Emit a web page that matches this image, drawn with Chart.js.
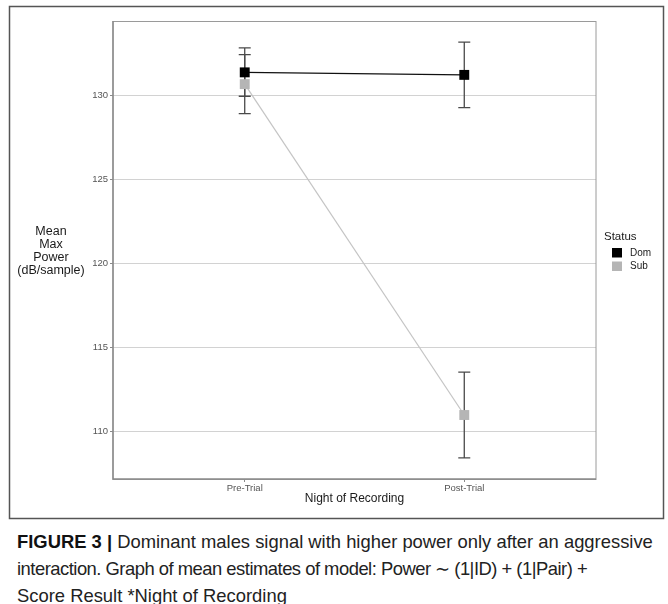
<!DOCTYPE html>
<html>
<head>
<meta charset="utf-8">
<script src="https://cdn.jsdelivr.net/npm/chart.js@4"></script>
<style>
  body { margin: 0; background: #fff; width: 668px; height: 604px; overflow: hidden; position: relative; }
  #wrap { position: absolute; left: 0; top: 0; width: 668px; height: 525px; }
  #caption {
    position: absolute; left: 17px; top: 528px; width: 660px; white-space: nowrap;
    font-family: "Liberation Sans", Arial, sans-serif; font-size: 18.4px; line-height: 27px; color: #222;
  }
  #caption b { color: #111; }
  #caption .tight { letter-spacing: -0.5px; }
</style>
</head>
<body>
<div id="wrap"><canvas id="myChart" width="668" height="525"></canvas></div>
<div id="caption"><b>FIGURE 3 |</b> Dominant males signal with higher power only after an aggressive<br><span class="tight">interaction. Graph of mean estimates of model: Power &#8764; (1|ID) + (1|Pair) +</span><br>Score Result *Night of Recording</div>
<script>
// categories and estimates
var nights = ["Pre-Trial", "Post-Trial"];
var yTicks = [110, 115, 120, 125, 130];

var domMean = [131.35, 131.2];
var domLow = [129.93, 129.25];
var domHigh = [132.8, 133.15];

var subMean = [130.65, 111.0];
var subLow = [128.9, 108.45];
var subHigh = [132.4, 113.55];

var statusNames = ["Dom", "Sub"];

function toPoints(vals) {
  return vals.map(function (v, i) { return { x: i + 1, y: v }; });
}

// error bars, drawn under the points
var errorBars = {
  id: "errorBars",
  beforeDatasetsDraw: function (chart) {
    var ctx = chart.ctx;
    var xs = chart.scales.x, ys = chart.scales.y;
    var sets = [[domLow, domHigh], [subLow, subHigh]];
    ctx.save();
    ctx.strokeStyle = "#4a4a4a";
    ctx.lineWidth = 1.3;
    sets.forEach(function (s) {
      for (var i = 0; i < nights.length; i++) {
        var px = xs.getPixelForValue(i + 1);
        var lo = ys.getPixelForValue(s[0][i]);
        var hi = ys.getPixelForValue(s[1][i]);
        ctx.beginPath();
        ctx.moveTo(px, lo); ctx.lineTo(px, hi);
        ctx.moveTo(px - 6, lo); ctx.lineTo(px + 6, lo);
        ctx.moveTo(px - 6, hi); ctx.lineTo(px + 6, hi);
        ctx.stroke();
      }
    });
    ctx.restore();
  }
};

// frame, panel border, titles, legend
var decorations = {
  id: "decorations",
  beforeDraw: function (chart) {
    var ctx = chart.ctx;
    ctx.save();
    ctx.fillStyle = "#fff";
    ctx.fillRect(0, 0, chart.width, chart.height);
    ctx.restore();
  },
  afterDraw: function (chart) {
    var ctx = chart.ctx;
    var a = chart.chartArea;
    ctx.save();
    // outer figure frame
    ctx.strokeStyle = "#555";
    ctx.lineWidth = 1.5;
    ctx.strokeRect(9.5, 6.5, 654, 512);
    // panel border
    ctx.strokeStyle = "#9a9a9a";
    ctx.lineWidth = 1;
    ctx.strokeRect(a.left, a.top + 0.5, a.right - a.left, a.bottom - a.top);
    ctx.strokeStyle = "#8a8a8a";
    ctx.lineWidth = 1.5;
    ctx.beginPath();
    ctx.moveTo(a.left, a.top); ctx.lineTo(a.left, a.bottom);
    ctx.lineTo(a.right, a.bottom);
    ctx.stroke();

    // y title
    ctx.fillStyle = "#1a1a1a";
    ctx.font = "12.5px 'Liberation Sans', Arial, sans-serif";
    ctx.textAlign = "center";
    ctx.textBaseline = "middle";
    var yLines = ["Mean", "Max", "Power", "(dB/sample)"];
    yLines.forEach(function (t, i) { ctx.fillText(t, 51, 232 + i * 13); });

    // x title
    ctx.font = "12px 'Liberation Sans', Arial, sans-serif";
    ctx.fillText("Night of Recording", (a.left + a.right) / 2, 499);

    // legend
    ctx.textAlign = "left";
    ctx.font = "11.5px 'Liberation Sans', Arial, sans-serif";
    ctx.fillText("Status", 604, 237);
    var cols = ["#000", "#b5b5b5"];
    ctx.font = "10px 'Liberation Sans', Arial, sans-serif";
    statusNames.forEach(function (n, i) {
      ctx.fillStyle = cols[i];
      ctx.fillRect(612, 248 + i * 13.5, 10, 9.5);
      ctx.fillStyle = "#1a1a1a";
      ctx.fillText(n, 630, 253 + i * 13.5);
    });
    ctx.restore();
  }
};

var ctx = document.getElementById("myChart").getContext("2d");
var chart = new Chart(ctx, {
  type: "line",
  data: {
    datasets: [
      {
        label: statusNames[0],
        data: toPoints(domMean),
        borderColor: "#111",
        borderWidth: 1.2,
        pointStyle: "rect",
        pointRadius: 7,
        pointBackgroundColor: "#000",
        pointBorderWidth: 0,
        fill: false,
        tension: 0
      },
      {
        label: statusNames[1],
        data: toPoints(subMean),
        borderColor: "#c4c4c4",
        borderWidth: 1.2,
        pointStyle: "rect",
        pointRadius: 7,
        pointBackgroundColor: "#b5b5b5",
        pointBorderWidth: 0,
        fill: false,
        tension: 0
      }
    ]
  },
  options: {
    responsive: false,
    animation: false,
    layout: { padding: { left: 0, right: 72, top: 21, bottom: 0 } },
    plugins: { legend: { display: false }, tooltip: { enabled: false } },
    scales: {
      x: {
        type: "linear",
        min: 0.4,
        max: 2.6,
        afterBuildTicks: function (scale) {
          scale.ticks = nights.map(function (_, i) { return { value: i + 1 }; });
        },
        afterFit: function (scale) { scale.height = 46; },
        border: { display: false },
        grid: { drawOnChartArea: false, tickLength: 3, color: "#8a8a8a" },
        ticks: {
          padding: 1,
          color: "#555",
          font: { family: "'Liberation Sans', Arial, sans-serif", size: 9.5 },
          callback: function (v) { return nights[v - 1]; }
        }
      },
      y: {
        type: "linear",
        min: 107.2,
        max: 134.4,
        afterBuildTicks: function (scale) {
          scale.ticks = yTicks.map(function (v) { return { value: v }; });
        },
        afterFit: function (scale) { scale.width = 113; },
        border: { display: false },
        grid: { color: "#d2d2d2", lineWidth: 1, tickLength: 3, tickColor: "#8a8a8a" },
        ticks: {
          padding: 2,
          color: "#555",
          font: { family: "'Liberation Sans', Arial, sans-serif", size: 9.5 }
        }
      }
    }
  },
  plugins: [errorBars, decorations]
});
</script>
</body>
</html>
